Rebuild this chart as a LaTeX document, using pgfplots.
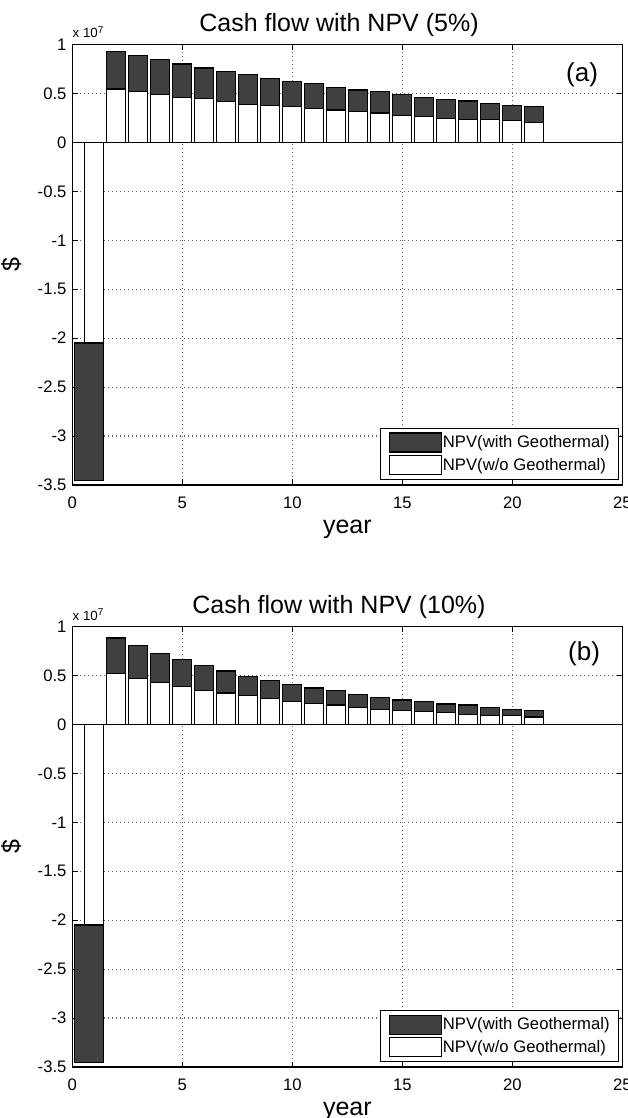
\documentclass[border=0pt]{standalone}
\usepackage{fontspec}
\setmainfont{Liberation Sans}
\usepackage{pgfplots}
\usepackage{pgfplotstable}
\pgfplotsset{compat=1.18}
\definecolor{darkbar}{RGB}{64,64,64}

\pgfplotstableread{
x dark white
2 0.925 0.545
3 0.885 0.517
4 0.843 0.490
5 0.800 0.460
6 0.760 0.447
7 0.720 0.420
8 0.690 0.390
9 0.654 0.380
10 0.626 0.370
11 0.598 0.343
12 0.560 0.330
13 0.535 0.315
14 0.517 0.300
15 0.490 0.276
16 0.460 0.262
17 0.437 0.248
18 0.423 0.238
19 0.395 0.238
20 0.380 0.220
21 0.367 0.206
}\dataA

\pgfplotstableread{
x dark white
2 0.882 0.517
3 0.806 0.465
4 0.726 0.424
5 0.667 0.385
6 0.600 0.347
7 0.545 0.320
8 0.493 0.292
9 0.451 0.264
10 0.410 0.236
11 0.372 0.212
12 0.344 0.198
13 0.306 0.170
14 0.274 0.156
15 0.250 0.146
16 0.236 0.132
17 0.208 0.118
18 0.198 0.104
19 0.170 0.090
20 0.156 0.090
21 0.146 0.076
}\dataB

% year 1: white (w/o geothermal) bar, and the dark part below it
\pgfplotstableread{
x white
1 -2.05
}\firstW
\pgfplotstableread{
x y
0.08 -2.05
1.40 -2.05
1.40 -3.45
0.08 -3.45
}\firstD

\pgfplotsset{
 barleg/.style={legend image code/.code={\draw[##1] (0pt,-5.7pt) rectangle (31.2pt,5.7pt);}},
 darkbars/.style={ybar, bar shift=0pt, bar width=0.86, draw=black, line width=0.7pt, fill=darkbar, barleg},
 whitebars/.style={ybar, bar shift=0pt, bar width=0.86, draw=black, line width=0.7pt, fill=white, barleg},
 myaxis/.style={
  width=330pt, height=264.3pt, scale only axis, clip=false,
  xmin=0, xmax=25, ymin=-3.5, ymax=1,
  xtick={0,5,...,25}, ytick={-3.5,-3,...,1},
  grid=major, major grid style={dotted, line width=0.7pt, black!60},
  tick align=inside, major tick length=3.3pt,
  axis line style={line width=0.7pt},
  every tick/.style={line width=0.6pt, black},
  /pgf/number format/assume math mode=true,
  tick label style={font=\fontsize{10}{12}\selectfont},
  xticklabel style={yshift=-3.5pt},
  xlabel={year}, ylabel={\$},
  xlabel style={font=\fontsize{15}{18}\selectfont, at={(axis description cs:0.5,0)}, anchor=base, yshift=-29pt},
  ylabel style={font=\fontsize{15}{18}\selectfont, at={(axis description cs:-0.111,0.5)}, anchor=center},
  title style={font=\fontsize{15}{18}\selectfont, at={(axis description cs:0.5,1)}, anchor=base, yshift=1.8pt, xshift=-5pt},
  legend style={at={(axis description cs:1,0)}, anchor=south east, xshift=-1.8pt, yshift=3pt,
    draw=black, line width=0.6pt, font=\fontsize{10}{12}\selectfont,
    inner xsep=5pt, inner ysep=2.5pt, row sep=1.5pt,
    nodes={inner xsep=0.5pt, inner ysep=1pt}},
  legend cell align=left,
 },
}

\begin{document}
\begin{tikzpicture}
\path[use as bounding box] (-43.4pt,-379.8pt) rectangle (333.4pt,291pt);

\begin{axis}[myaxis, at={(0,0)}, anchor=south west, title={Cash flow with NPV (5\%)}]
\addplot[darkbars] table[x=x, y=dark] {\dataA};
\addlegendentry{NPV(with Geothermal)\hspace{5pt}}
\addplot[whitebars] table[x=x, y=white] {\dataA};
\addlegendentry{NPV(w/o Geothermal)}
\addplot[draw=black, line width=0.7pt, fill=darkbar, forget plot] table[x=x, y=y] {\firstD} -- cycle;
\addplot[whitebars, forget plot] table[x=x, y=white] {\firstW};
\draw[line width=0.7pt] (axis cs:0,0) -- (axis cs:25,0);
\node[font=\fontsize{15.6}{18}\selectfont, anchor=base] at (axis cs:23.17,0.62) {(a)};
\node[font=\fontsize{8}{9}\selectfont, anchor=base west, inner sep=0pt, yshift=3.9pt] at (axis description cs:0,1) {x 10\textsuperscript{7}};
\end{axis}

\begin{axis}[myaxis, at={(0,-349.2pt)}, anchor=south west, title={Cash flow with NPV (10\%)}]
\addplot[darkbars] table[x=x, y=dark] {\dataB};
\addlegendentry{NPV(with Geothermal)\hspace{5pt}}
\addplot[whitebars] table[x=x, y=white] {\dataB};
\addlegendentry{NPV(w/o Geothermal)}
\addplot[draw=black, line width=0.7pt, fill=darkbar, forget plot] table[x=x, y=y] {\firstD} -- cycle;
\addplot[whitebars, forget plot] table[x=x, y=white] {\firstW};
\draw[line width=0.7pt] (axis cs:0,0) -- (axis cs:25,0);
\node[font=\fontsize{15.6}{18}\selectfont, anchor=base] at (axis cs:23.26,0.65) {(b)};
\node[font=\fontsize{8}{9}\selectfont, anchor=base west, inner sep=0pt, yshift=3.9pt] at (axis description cs:0,1) {x 10\textsuperscript{7}};
\end{axis}
\end{tikzpicture}
\end{document}
